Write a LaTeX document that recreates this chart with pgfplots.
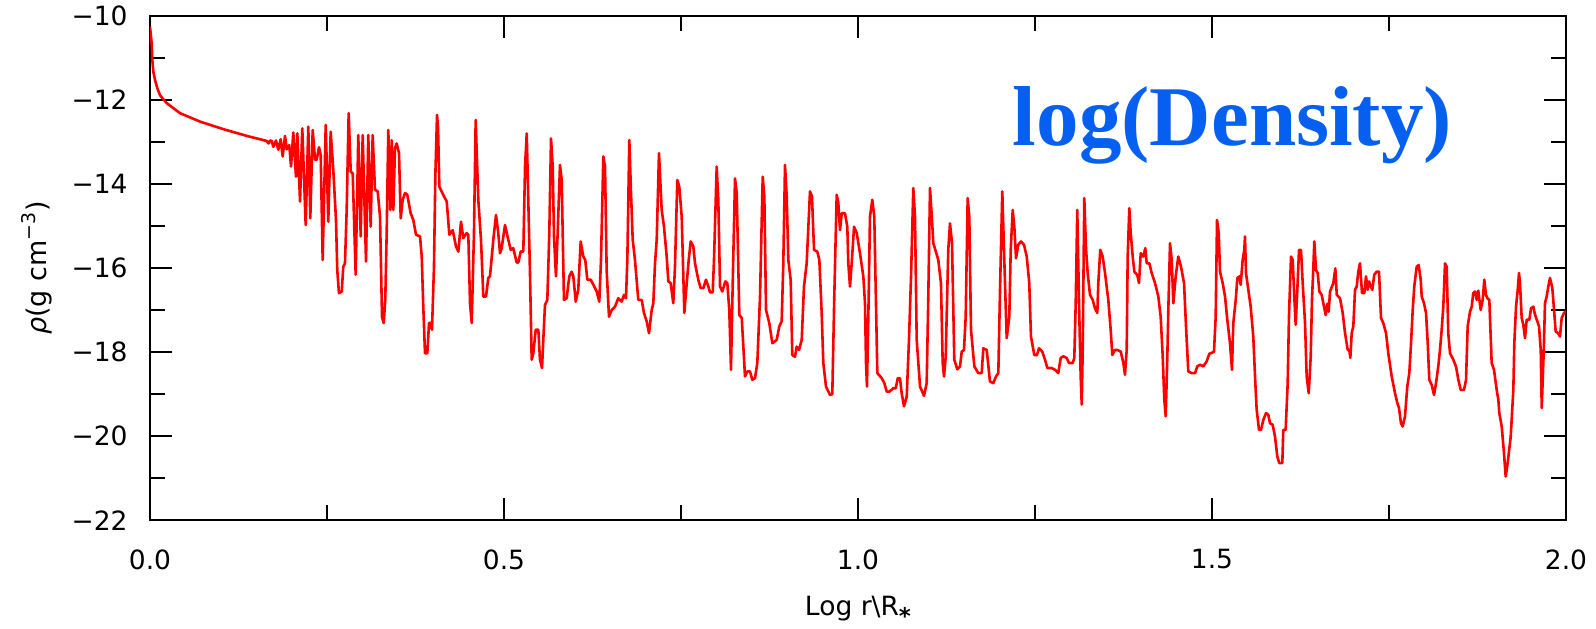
\documentclass[border=0pt]{standalone}
\usepackage{pgfplots}
\pgfplotsset{compat=1.18}
\usepackage{fontspec}
\setmainfont{DejaVu Sans}
\newfontfamily\titlefont{Liberation Serif}
\definecolor{titleblue}{RGB}{5,95,240}
\begin{document}
\begin{tikzpicture}
\begin{axis}[
  scale only axis,
  width=708bp, height=252.35bp,
  xmin=0, xmax=2, ymin=-22, ymax=-10,
  axis line style={line width=1bp},
  every tick/.style={black, line width=1bp},
  major tick length=11bp, minor tick length=7.5bp,
  tick align=inside, tick pos=both,
  xtick={0,0.5,1,1.5,2}, xticklabels={0.0,0.5,1.0,1.5,2.0},
  ytick={-22,-20,-18,-16,-14,-12,-10}, yticklabels={−22,−20,−18,−16,−14,−12,−10},
  minor x tick num=1, minor y tick num=1,
  tick label style={font=\fontsize{13.25bp}{15bp}\selectfont, inner sep=0pt},
  xticklabel style={anchor=north, yshift=-14.35bp},
  yticklabel style={anchor=east, xshift=-11bp},
  xlabel={Log r\textbackslash R\raisebox{-4.5bp}{\bfseries\fontsize{11.5bp}{11.5bp}\selectfont *}},
  xlabel style={font=\fontsize{13.25bp}{15bp}\selectfont, at={(axis description cs:0.5,0)}, anchor=north, inner sep=0pt, yshift=-37.5bp},
  ylabel={{\itshape ρ}(g cm\textsuperscript{−3})},
  ylabel style={font=\fontsize{13.5bp}{15bp}\selectfont, at={([xshift=-56.5bp]axis description cs:0,0.5)}, anchor=center, inner sep=0pt},
]
\addplot[red, line width=1.3bp, line join=round, mark=none] coordinates {
(0.0000,-10.26)(0.0024,-10.66)(0.0033,-11.06)(0.0047,-11.33)(0.0071,-11.53)(0.0104,-11.73)
(0.0141,-11.89)(0.0188,-11.99)(0.0236,-12.08)(0.0424,-12.32)(0.0706,-12.52)(0.1035,-12.70)
(0.1366,-12.86)(0.1600,-12.96)(0.1648,-12.98)(0.1675,-13.04)(0.1695,-12.97)
(0.1719,-12.98)(0.1742,-13.12)(0.1780,-12.97)(0.1812,-13.19)(0.1846,-12.94)(0.1874,-13.35)
(0.1907,-12.86)(0.1931,-13.18)(0.1967,-13.08)(0.1992,-13.59)(0.2024,-12.78)(0.2062,-13.83)
(0.2081,-12.80)(0.2119,-14.42)(0.2151,-12.68)(0.2199,-14.98)(0.2236,-12.64)(0.2264,-14.82)
(0.2298,-12.72)(0.2331,-13.43)(0.2354,-13.43)(0.2387,-13.13)(0.2411,-13.31)(0.2439,-15.81)
(0.2482,-12.60)(0.2518,-14.90)(0.2552,-12.76)(0.2589,-13.67)(0.2627,-14.86)(0.2645,-16.05)
(0.2669,-16.60)(0.2708,-16.56)(0.2730,-15.97)(0.2754,-15.89)(0.2778,-14.62)(0.2806,-12.32)
(0.2835,-13.71)(0.2863,-13.75)(0.2905,-16.16)(0.2942,-12.84)(0.2976,-15.25)(0.3004,-12.84)
(0.3051,-15.85)(0.3083,-12.84)(0.3117,-15.02)(0.3145,-12.84)(0.3178,-14.14)(0.3216,-14.18)
(0.3249,-14.78)(0.3277,-17.16)(0.3301,-17.31)(0.3323,-16.76)(0.3343,-15.17)(0.3366,-12.72)
(0.3394,-14.62)(0.3414,-12.96)(0.3437,-14.62)(0.3460,-13.15)(0.3484,-13.04)(0.3517,-13.27)
(0.3541,-14.82)(0.3569,-14.38)(0.3602,-14.22)(0.3634,-14.26)(0.3682,-14.70)(0.3719,-14.86)
(0.3757,-15.21)(0.3814,-15.25)(0.3838,-15.73)(0.3860,-16.92)(0.3884,-18.03)(0.3917,-18.03)
(0.3941,-17.31)(0.3965,-17.31)(0.3983,-17.47)(0.4011,-15.97)(0.4030,-13.83)(0.4054,-12.36)
(0.4068,-12.64)(0.4087,-14.07)(0.4153,-14.30)(0.4191,-14.42)(0.4228,-15.21)(0.4276,-15.10)
(0.4322,-15.49)(0.4355,-15.61)(0.4393,-14.90)(0.4425,-15.29)(0.4473,-15.17)(0.4496,-15.21)
(0.4520,-16.84)(0.4544,-17.31)(0.4576,-15.17)(0.4600,-12.48)(0.4637,-14.38)(0.4675,-15.33)
(0.4708,-16.68)(0.4746,-16.68)(0.4778,-16.24)(0.4802,-16.20)(0.4849,-15.33)(0.4887,-14.74)
(0.4919,-15.17)(0.4944,-15.65)(0.4967,-15.53)(0.5014,-14.98)(0.5061,-15.33)(0.5095,-15.57)
(0.5131,-15.53)(0.5179,-15.87)(0.5202,-15.87)(0.5236,-15.61)(0.5273,-15.61)(0.5297,-13.59)
(0.5321,-12.80)(0.5343,-14.38)(0.5367,-16.12)(0.5391,-18.18)(0.5414,-18.03)(0.5448,-17.47)
(0.5485,-17.47)(0.5508,-18.18)(0.5537,-18.38)(0.5555,-17.71)(0.5579,-16.88)(0.5612,-16.76)
(0.5640,-15.17)(0.5664,-12.92)(0.5688,-13.59)(0.5706,-15.25)(0.5734,-16.20)(0.5758,-15.17)
(0.5791,-13.55)(0.5815,-13.91)(0.5847,-16.76)(0.5885,-16.72)(0.5922,-16.20)(0.5956,-16.09)
(0.5979,-16.20)(0.6013,-16.80)(0.6049,-16.52)(0.6083,-15.37)(0.6120,-15.73)(0.6148,-15.81)
(0.6177,-16.28)(0.6225,-16.28)(0.6262,-16.40)(0.6309,-16.56)(0.6346,-16.80)(0.6370,-15.81)
(0.6403,-13.35)(0.6427,-13.59)(0.6450,-16.05)(0.6483,-17.16)(0.6521,-17.00)(0.6568,-16.92)
(0.6614,-16.72)(0.6662,-16.80)(0.6695,-16.64)(0.6723,-16.72)(0.6742,-15.81)(0.6770,-12.96)
(0.6794,-14.22)(0.6818,-15.33)(0.6850,-15.81)(0.6897,-16.76)(0.6945,-16.76)(0.6977,-17.07)
(0.7015,-17.27)(0.7048,-17.55)(0.7086,-17.00)(0.7109,-16.84)(0.7133,-15.89)(0.7157,-15.33)
(0.7189,-13.27)(0.7227,-14.62)(0.7260,-15.02)(0.7298,-15.73)(0.7321,-16.32)(0.7354,-16.36)
(0.7391,-16.84)(0.7415,-15.97)(0.7448,-13.91)(0.7476,-14.07)(0.7510,-14.78)(0.7547,-17.07)
(0.7581,-16.36)(0.7609,-15.81)(0.7637,-15.37)(0.7674,-15.49)(0.7698,-15.89)(0.7744,-16.28)
(0.7778,-16.48)(0.7815,-16.48)(0.7853,-16.28)(0.7886,-16.44)(0.7910,-16.58)(0.7948,-16.58)
(0.7966,-15.81)(0.8004,-13.59)(0.8027,-14.38)(0.8051,-16.44)(0.8083,-16.56)(0.8126,-16.32)
(0.8154,-16.36)(0.8182,-17.00)(0.8206,-18.42)(0.8230,-16.40)(0.8263,-13.87)(0.8287,-14.22)
(0.8324,-17.12)(0.8358,-17.19)(0.8404,-18.58)(0.8437,-18.46)(0.8475,-18.46)(0.8507,-18.66)
(0.8545,-18.62)(0.8578,-18.26)(0.8616,-16.68)(0.8654,-13.83)(0.8677,-14.30)(0.8701,-17.00)
(0.8747,-17.31)(0.8790,-17.79)(0.8852,-17.71)(0.8888,-17.39)(0.8922,-17.27)(0.8945,-15.89)
(0.8969,-13.55)(0.8993,-14.30)(0.9016,-15.81)(0.9049,-16.28)(0.9072,-18.07)(0.9110,-18.11)
(0.9134,-17.87)(0.9167,-17.95)(0.9205,-17.71)(0.9237,-16.44)(0.9275,-15.89)(0.9322,-14.18)
(0.9350,-14.30)(0.9379,-15.57)(0.9425,-15.61)(0.9454,-15.81)(0.9487,-17.07)(0.9510,-18.26)
(0.9548,-18.82)(0.9605,-19.02)(0.9637,-19.00)(0.9665,-16.68)(0.9699,-14.26)(0.9722,-14.45)
(0.9746,-15.10)(0.9770,-14.70)(0.9816,-14.70)(0.9849,-15.02)(0.9863,-15.89)(0.9887,-16.44)
(0.9911,-15.89)(0.9944,-15.02)(0.9982,-15.17)(1.0028,-15.65)(1.0075,-16.20)(1.0099,-16.84)
(1.0113,-18.26)(1.0127,-18.82)(1.0151,-16.68)(1.0169,-14.78)(1.0202,-14.38)(1.0230,-14.78)
(1.0254,-16.84)(1.0273,-18.50)(1.0335,-18.62)(1.0372,-18.74)(1.0406,-18.94)(1.0443,-18.94)
(1.0499,-18.86)(1.0533,-18.86)(1.0562,-18.62)(1.0593,-18.62)(1.0617,-18.98)(1.0650,-19.29)
(1.0688,-19.06)(1.0720,-17.71)(1.0749,-16.20)(1.0781,-14.10)(1.0805,-14.78)(1.0829,-17.71)
(1.0876,-18.82)(1.0932,-19.04)(1.0970,-18.74)(1.0993,-16.68)(1.1017,-14.10)(1.1041,-14.75)
(1.1064,-15.41)(1.1134,-15.81)(1.1172,-16.36)(1.1196,-18.26)(1.1215,-18.58)(1.1239,-18.10)
(1.1275,-15.57)(1.1299,-14.94)(1.1328,-15.41)(1.1360,-18.18)(1.1403,-18.41)(1.1441,-18.34)
(1.1465,-17.99)(1.1497,-17.95)(1.1521,-17.16)(1.1549,-14.34)(1.1572,-14.78)(1.1596,-17.47)
(1.1643,-18.34)(1.1699,-18.50)(1.1747,-18.50)(1.1770,-17.91)(1.1818,-17.95)(1.1864,-18.70)
(1.1911,-18.74)(1.1949,-18.58)(1.1982,-18.50)(1.2006,-16.52)(1.2038,-14.18)(1.2062,-15.57)
(1.2100,-17.67)(1.2137,-17.16)(1.2157,-15.57)(1.2185,-14.62)(1.2208,-15.02)(1.2232,-15.77)
(1.2264,-15.45)(1.2302,-15.37)(1.2345,-15.45)(1.2383,-15.73)(1.2419,-16.36)(1.2443,-17.63)
(1.2490,-18.07)(1.2528,-18.07)(1.2556,-17.91)(1.2603,-17.99)(1.2641,-18.18)(1.2674,-18.38)
(1.2736,-18.38)(1.2782,-18.42)(1.2829,-18.50)(1.2863,-18.14)(1.2900,-18.10)(1.2948,-18.14)
(1.2980,-18.26)(1.3032,-18.26)(1.3055,-18.14)(1.3075,-16.84)(1.3097,-14.62)(1.3121,-16.76)
(1.3145,-18.58)(1.3160,-19.25)(1.3174,-17.93)(1.3196,-14.34)(1.3220,-15.53)(1.3244,-16.12)
(1.3277,-16.64)(1.3315,-16.76)(1.3347,-16.96)(1.3380,-17.07)(1.3394,-16.36)(1.3422,-15.57)
(1.3456,-15.73)(1.3489,-16.12)(1.3535,-16.76)(1.3569,-17.47)(1.3592,-18.07)(1.3630,-17.95)
(1.3663,-17.95)(1.3711,-17.99)(1.3748,-18.26)(1.3771,-18.54)(1.3795,-17.95)(1.3809,-15.73)
(1.3832,-14.58)(1.3852,-15.17)(1.3880,-15.73)(1.3903,-16.09)(1.3945,-16.17)(1.3969,-16.36)
(1.3993,-15.65)(1.4030,-15.73)(1.4058,-15.53)(1.4078,-15.89)(1.4115,-15.89)(1.4148,-16.12)
(1.4195,-16.36)(1.4242,-16.68)(1.4275,-17.16)(1.4304,-18.11)(1.4326,-19.13)(1.4346,-19.53)
(1.4369,-18.11)(1.4383,-17.00)(1.4407,-15.41)(1.4431,-15.81)(1.4454,-16.84)(1.4487,-16.20)
(1.4524,-15.73)(1.4562,-15.97)(1.4605,-16.36)(1.4633,-17.39)(1.4665,-18.46)(1.4713,-18.50)
(1.4760,-18.50)(1.4792,-18.34)(1.4831,-18.30)(1.4877,-18.34)(1.4925,-18.22)(1.4962,-18.04)
(1.4996,-18.02)(1.5028,-17.99)(1.5052,-17.16)(1.5071,-14.86)(1.5095,-15.17)(1.5113,-16.09)
(1.5151,-16.36)(1.5184,-16.68)(1.5216,-17.23)(1.5254,-17.79)(1.5282,-18.42)(1.5301,-17.31)
(1.5335,-16.76)(1.5358,-16.24)(1.5386,-16.20)(1.5405,-16.40)(1.5433,-15.81)(1.5456,-15.57)
(1.5466,-15.25)(1.5480,-16.12)(1.5513,-16.52)(1.5546,-16.92)(1.5583,-17.63)(1.5612,-18.74)
(1.5631,-19.37)(1.5664,-19.85)(1.5692,-19.85)(1.5725,-19.61)(1.5763,-19.45)(1.5795,-19.49)
(1.5819,-19.69)(1.5857,-19.73)(1.5890,-20.01)(1.5922,-20.48)(1.5950,-20.64)(1.5993,-20.64)
(1.6007,-19.85)(1.6040,-19.85)(1.6069,-18.74)(1.6087,-17.16)(1.6116,-15.73)(1.6140,-15.81)
(1.6162,-16.68)(1.6182,-17.35)(1.6205,-16.52)(1.6229,-15.57)(1.6257,-15.57)(1.6281,-16.36)
(1.6314,-17.31)(1.6337,-18.58)(1.6366,-18.98)(1.6394,-18.11)(1.6412,-16.76)(1.6431,-16.00)
(1.6445,-15.37)(1.6469,-16.05)(1.6493,-16.12)(1.6516,-16.56)(1.6549,-16.64)(1.6582,-16.92)
(1.6606,-17.12)(1.6629,-16.85)(1.6648,-17.04)(1.6667,-16.56)(1.6713,-16.36)(1.6742,-16.01)
(1.6762,-16.64)(1.6808,-16.72)(1.6846,-17.07)(1.6879,-17.55)(1.6917,-17.95)(1.6939,-17.95)
(1.6954,-18.14)(1.6973,-17.55)(1.6996,-17.39)(1.7020,-16.52)(1.7044,-16.44)(1.7066,-16.09)
(1.7090,-15.89)(1.7119,-16.60)(1.7151,-16.60)(1.7175,-16.20)(1.7199,-16.52)(1.7218,-16.32)
(1.7242,-16.44)(1.7264,-16.52)(1.7292,-16.16)(1.7326,-16.09)(1.7359,-16.09)(1.7387,-17.19)
(1.7419,-17.31)(1.7458,-17.55)(1.7490,-18.03)(1.7538,-18.58)(1.7585,-18.98)(1.7617,-19.21)
(1.7641,-19.33)(1.7669,-19.69)(1.7693,-19.77)(1.7726,-19.53)(1.7758,-18.82)(1.7787,-18.50)
(1.7811,-17.79)(1.7835,-17.00)(1.7857,-16.44)(1.7891,-15.97)(1.7919,-15.93)(1.7948,-16.28)
(1.7962,-16.68)(1.7994,-16.84)(1.8023,-17.07)(1.8047,-17.79)(1.8069,-18.66)(1.8103,-18.78)
(1.8136,-19.02)(1.8164,-18.74)(1.8196,-18.34)(1.8220,-17.95)(1.8244,-17.47)(1.8267,-16.92)
(1.8291,-15.89)(1.8315,-15.97)(1.8337,-17.55)(1.8362,-18.03)(1.8408,-18.18)(1.8446,-18.34)
(1.8479,-18.66)(1.8513,-18.90)(1.8559,-18.90)(1.8588,-18.66)(1.8611,-17.39)(1.8644,-17.04)
(1.8668,-16.92)(1.8690,-16.60)(1.8715,-16.56)(1.8739,-16.76)(1.8761,-16.54)(1.8795,-17.00)
(1.8823,-16.76)(1.8846,-16.28)(1.8870,-16.64)(1.8889,-16.72)(1.8917,-16.76)(1.8950,-18.26)
(1.8983,-18.42)(1.9021,-18.90)(1.9044,-19.13)(1.9058,-19.45)(1.9092,-19.77)(1.9124,-20.40)
(1.9148,-20.96)(1.9176,-20.64)(1.9219,-20.01)(1.9256,-18.90)(1.9270,-17.79)(1.9294,-16.92)
(1.9318,-16.52)(1.9336,-16.12)(1.9350,-16.36)(1.9374,-17.19)(1.9397,-17.35)(1.9421,-17.67)
(1.9445,-17.23)(1.9482,-17.23)(1.9506,-16.96)(1.9539,-16.92)(1.9562,-17.11)(1.9595,-17.27)
(1.9619,-17.39)(1.9643,-17.95)(1.9657,-19.33)(1.9686,-17.95)(1.9703,-16.84)(1.9727,-16.68)
(1.9750,-16.44)(1.9774,-16.24)(1.9807,-16.48)(1.9831,-17.00)(1.9854,-17.51)(1.9887,-17.55)
(1.9915,-17.63)(1.9939,-17.19)(1.9972,-17.07)(2.0000,-17.03)
};
\node[font=\titlefont\bfseries\fontsize{42.5bp}{50bp}\selectfont, text=titleblue, anchor=base, inner sep=0pt] at (axis cs:1.529,-13.10) {log(Density)};
\end{axis}
\pgfresetboundingbox
\path[use as bounding box] (-75bp,-54.35bp) rectangle (723bp,260.15bp);
\end{tikzpicture}
\end{document}
